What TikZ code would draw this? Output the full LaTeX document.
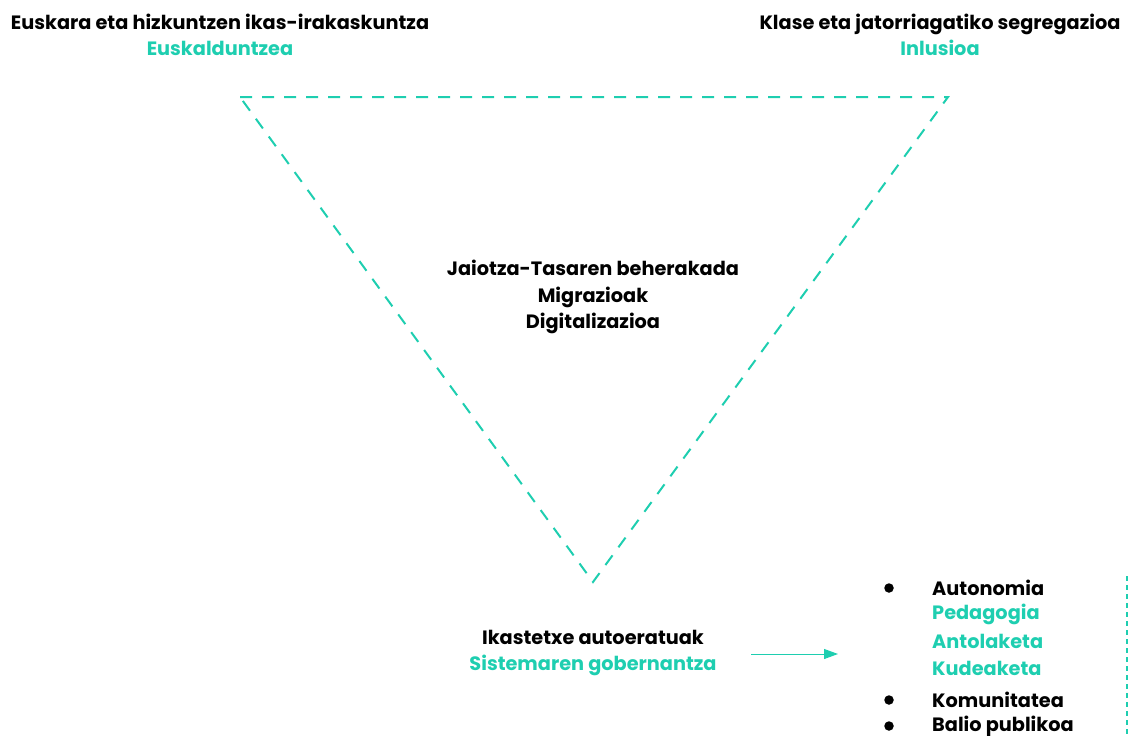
\documentclass[tikz,border=0pt]{standalone}
\usepackage{fontspec}
\setmainfont{Poppins}
\usetikzlibrary{arrows.meta}
\definecolor{teal1}{RGB}{30,206,176}
\tikzset{
  txt/.style={font=\fontsize{19.3}{26.5}\selectfont\bfseries, align=center, inner sep=0pt, text=black},
  ltxt/.style={font=\fontsize{19.3}{26.5}\selectfont\bfseries, align=left, inner sep=0pt, anchor=west, text=black},
  tri/.style={draw=teal1, line width=2pt, dash pattern=on 12pt off 10pt},
  vdash/.style={draw=teal1, line width=2pt, dash pattern=on 5pt off 4pt},
  arr/.style={draw=teal1, line width=1pt, -{Triangle[length=14pt,width=10pt]}, teal1},
  bul/.style={circle, fill=black, inner sep=0pt, minimum size=9.5pt}
}
\begin{document}
\begin{tikzpicture}[x=1pt,y=-1pt]
\useasboundingbox (0,0) rectangle (1130,736);
% triangle
\coordinate (tl) at (240,97);
\coordinate (tr) at (948,97);
\coordinate (bt) at (593,582);
\draw[tri] (tl) -- (tr) -- (bt) -- cycle;
% top texts
\node[txt] (lang) at (220,35) {Euskara eta hizkuntzen ikas-irakaskuntza\\\textcolor{teal1}{Euskalduntzea}};
\node[txt] (seg) at (940,35) {Klase eta jatorriagatiko segregazioa\\\textcolor{teal1}{Inlusioa}};
% center
\node[txt] (mid) at (593,297) {Jaiotza-Tasaren beherakada\\Migrazioak\\Digitalizazioa};
% bottom
\node[txt] (gov) at (593,653) {Ikastetxe autoeratuak\\\textcolor{teal1}{Sistemaren gobernantza}};
\coordinate (a1) at (751,654);
\coordinate (a2) at (838,654);
\draw[arr] (a1) -- (a2);
% list
\node[bul] (b1) at (889,588) {};
\node[bul] (b2) at (889,700) {};
\node[bul] (b3) at (889,726) {};
\node[ltxt] (l1) at (932,588) {Autonomia};
\node[ltxt] (l2) at (932,614) {\textcolor{teal1}{Pedagogia}};
\node[ltxt] (l3) at (932,641) {\textcolor{teal1}{Antolaketa}};
\node[ltxt] (l4) at (932,668) {\textcolor{teal1}{Kudeaketa}};
\node[ltxt] (l5) at (932,700) {Komunitatea};
\node[ltxt] (l6) at (932,726) {Balio publikoa};
% vertical dashed line
\coordinate (v1) at (1127,576);
\coordinate (v2) at (1127,736);
\draw[vdash] (v1) -- (v2);
\end{tikzpicture}
\end{document}
